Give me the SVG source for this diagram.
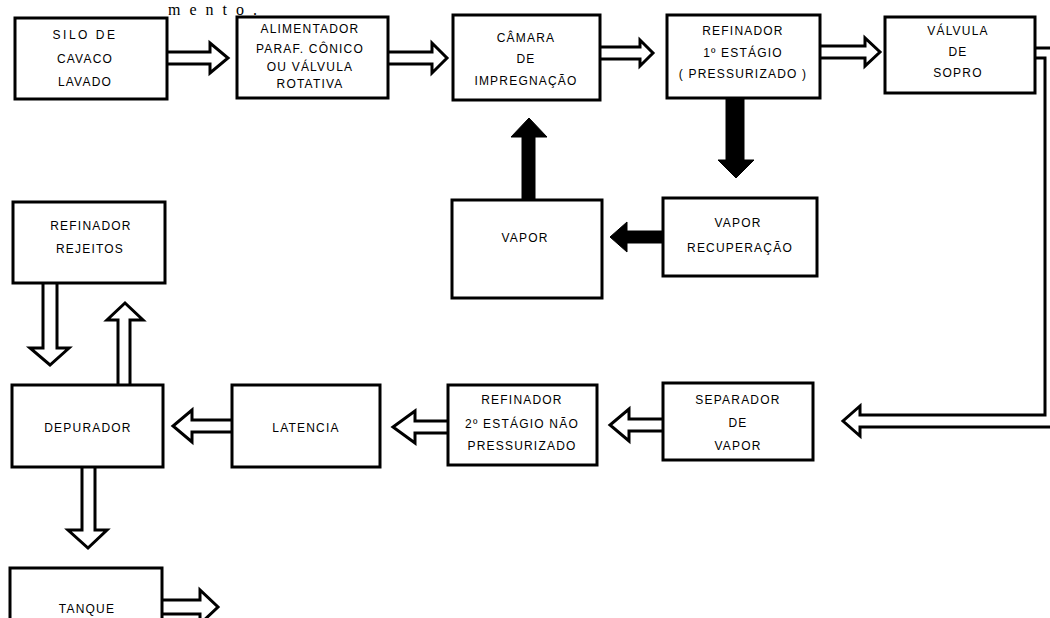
<svg xmlns="http://www.w3.org/2000/svg" width="1050" height="618" viewBox="0 0 1050 618">
<style>
.box{fill:#fff;stroke:#000;stroke-width:3}
.ha{fill:#fff;stroke:#000;stroke-width:3;stroke-linejoin:miter}
.ba{fill:#000;stroke:#000;stroke-width:1}
text{font-family:"Liberation Sans","DejaVu Sans",sans-serif;font-size:12px;letter-spacing:1.2px;text-anchor:middle;fill:#000}
.top{font-family:"Liberation Serif","Times New Roman",serif;font-size:16px;text-anchor:start;letter-spacing:9px}
</style>
<rect width="1050" height="618" fill="#fff"/>
<text class="top" x="168" y="15">mento.</text>

<g id="connectors">
<path class="ha" d="M167,52 H210 V43 L228,58 L210,73 V64 H167"/>
<path class="ha" d="M388,52 H432 V43 L447,58 L432,73 V64 H388"/>
<path class="ha" d="M600,47 H640 V40 L653,53 L640,66 V59 H600"/>
<path class="ha" d="M820,46 H865 V38 L880,52 L865,66 V58 H820"/>
<path class="ha" d="M1035,48 H1058 V427 H860 V436 L843,421 L860,406 V415 H1045 V58 H1035"/>
<path class="ba" d="M726,98 H744 V160 H754 L736,178 L718,160 H726 Z"/>
<path class="ba" d="M663,231 H627 V222 L610,237 L627,252 V243 H663 Z"/>
<path class="ba" d="M522,200 V137 H511 L529,118 L547,137 H535 V200 Z"/>
<path class="ha" d="M43,283 V348 H30 L50,365 L69,348 H57 V283"/>
<path class="ha" d="M118,385 V320 H107 L125,303 L143,320 H130 V385"/>
<path class="ha" d="M82,467 V530 H68 L88,548 L107,530 H95 V467"/>
<path class="ha" d="M162,600 H200 V590 L218,607 L200,624 V614 H162"/>
<path class="ha" d="M232,420 H192 V410 L173,426 L192,442 V432 H232"/>
<path class="ha" d="M448,421 H415 V411 L393,427 L415,443 V433 H448"/>
<path class="ha" d="M663,419 H629 V409 L610,425 L629,441 V431 H663"/>
</g>

<g id="silo"><rect class="box" x="15" y="18" width="152" height="81"/>
<text x="85" y="39" style="letter-spacing:2.5px">SILO  DE</text><text x="85" y="63">CAVACO</text><text x="85" y="86">LAVADO</text></g>
<g id="alimentador"><rect class="box" x="237" y="17" width="151" height="81"/>
<text x="310" y="33">ALIMENTADOR</text><text x="310" y="53">PARAF. CÔNICO</text><text x="310" y="71">OU  VÁLVULA</text><text x="310" y="88">ROTATIVA</text></g>
<g id="camara"><rect class="box" x="453" y="15" width="147" height="85"/>
<text x="526" y="42">CÂMARA</text><text x="526" y="63">DE</text><text x="526" y="85">IMPREGNAÇÃO</text></g>
<g id="refinador1"><rect class="box" x="667" y="15" width="153" height="83"/>
<text x="743" y="35">REFINADOR</text><text x="743" y="57">1º ESTÁGIO</text><text x="743" y="78">( PRESSURIZADO )</text></g>
<g id="valvula"><rect class="box" x="885" y="17" width="150" height="76"/>
<text x="958" y="35">VÁLVULA</text><text x="958" y="56">DE</text><text x="958" y="77">SOPRO</text></g>
<g id="vapor"><rect class="box" x="452" y="200" width="150" height="98"/>
<text x="525" y="242">VAPOR</text></g>
<g id="vaporrec"><rect class="box" x="663" y="198" width="154" height="78"/>
<text x="738" y="227">VAPOR</text><text x="740" y="252">RECUPERAÇÃO</text></g>
<g id="rejeitos"><rect class="box" x="13" y="202" width="152" height="81"/>
<text x="91" y="230">REFINADOR</text><text x="90" y="253">REJEITOS</text></g>
<g id="depurador"><rect class="box" x="12" y="385" width="151" height="82"/>
<text x="88" y="432">DEPURADOR</text></g>
<g id="latencia"><rect class="box" x="232" y="385" width="148" height="82"/>
<text x="306" y="432">LATENCIA</text></g>
<g id="refinador2"><rect class="box" x="448" y="385" width="149" height="80"/>
<text x="522" y="404">REFINADOR</text><text x="522" y="428">2º ESTÁGIO  NÃO</text><text x="522" y="450">PRESSURIZADO</text></g>
<g id="separador"><rect class="box" x="663" y="383" width="150" height="77"/>
<text x="738" y="404">SEPARADOR</text><text x="738" y="427">DE</text><text x="738" y="450">VAPOR</text></g>
<g id="tanque"><rect class="box" x="10" y="568" width="152" height="60"/>
<text x="87" y="613">TANQUE</text></g>
</svg>
